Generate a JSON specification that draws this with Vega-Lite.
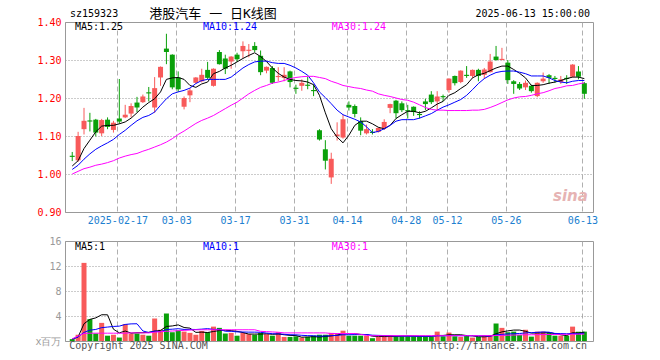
{
"$schema": "https://vega.github.io/schema/vega-lite/v6.json",
"background": "white",
"padding": {"left": 34, "top": 7, "right": 0, "bottom": 0},
"config": {
 "view": {"stroke": "#999", "strokeWidth": 1},
 "font": "DejaVu Sans Mono",
 "axis": {"labelFont": "DejaVu Sans Mono", "labelFontSize": 10, "ticks": false, "domain": false, "title": null, "labelOverlap": false},
 "line": {"strokeWidth": 1}
},
"spacing": 29,
"bounds": "flush",
"datasets": {"k": [
{"i":0,"o":1.048,"h":1.058,"l":1.034,"c":1.045,"v":0.3,"m5":1.021,"m10":1.012,"m30":1.000,"vm5":0.3,"vm10":0.3,"vm30":0.35},
{"i":1,"o":1.036,"h":1.111,"l":1.032,"c":1.100,"v":1.0,"m5":1.035,"m10":1.023,"m30":1.007,"vm5":0.65,"vm10":0.65,"vm30":0.8},
{"i":2,"o":1.118,"h":1.174,"l":1.104,"c":1.140,"v":12.5,"m5":1.067,"m10":1.039,"m30":1.014,"vm5":2.76,"vm10":1.38,"vm30":1.2},
{"i":3,"o":1.141,"h":1.161,"l":1.112,"c":1.138,"v":3.5,"m5":1.089,"m10":1.053,"m30":1.018,"vm5":3.46,"vm10":1.73,"vm30":1.25},
{"i":4,"o":1.143,"h":1.145,"l":1.099,"c":1.109,"v":1.2,"m5":1.111,"m10":1.065,"m30":1.023,"vm5":3.7,"vm10":1.85,"vm30":1.25},
{"i":5,"o":1.107,"h":1.145,"l":1.100,"c":1.142,"v":2.9,"m5":1.126,"m10":1.074,"m30":1.026,"vm5":4.2,"vm10":2.14,"vm30":1.25},
{"i":6,"o":1.143,"h":1.149,"l":1.118,"c":1.124,"v":0.85,"m5":1.128,"m10":1.082,"m30":1.030,"vm5":4.19,"vm10":2.23,"vm30":1.25},
{"i":7,"o":1.116,"h":1.140,"l":1.109,"c":1.135,"v":1.0,"m5":1.128,"m10":1.091,"m30":1.035,"vm5":1.89,"vm10":2.33,"vm30":1.25},
{"i":8,"o":1.146,"h":1.250,"l":1.132,"c":1.138,"v":0.55,"m5":1.132,"m10":1.104,"m30":1.042,"vm5":1.3,"vm10":2.38,"vm30":1.25},
{"i":9,"o":1.149,"h":1.182,"l":1.147,"c":1.156,"v":2.7,"m5":1.137,"m10":1.115,"m30":1.047,"vm5":1.6,"vm10":2.65,"vm30":1.25},
{"i":10,"o":1.159,"h":1.186,"l":1.149,"c":1.179,"v":1.2,"m5":1.147,"m10":1.128,"m30":1.051,"vm5":1.26,"vm10":2.74,"vm30":1.3},
{"i":11,"o":1.188,"h":1.203,"l":1.163,"c":1.175,"v":1.2,"m5":1.161,"m10":1.140,"m30":1.054,"vm5":1.33,"vm10":2.76,"vm30":1.3},
{"i":12,"o":1.189,"h":1.209,"l":1.187,"c":1.204,"v":1.0,"m5":1.176,"m10":1.149,"m30":1.060,"vm5":1.33,"vm10":1.61,"vm30":1.3},
{"i":13,"o":1.215,"h":1.229,"l":1.191,"c":1.212,"v":0.85,"m5":1.188,"m10":1.154,"m30":1.065,"vm5":1.39,"vm10":1.35,"vm30":1.3},
{"i":14,"o":1.175,"h":1.255,"l":1.161,"c":1.226,"v":3.6,"m5":1.198,"m10":1.163,"m30":1.071,"vm5":1.57,"vm10":1.6,"vm30":1.4},
{"i":15,"o":1.254,"h":1.283,"l":1.232,"c":1.282,"v":1.8,"m5":1.216,"m10":1.181,"m30":1.077,"vm5":1.69,"vm10":1.49,"vm30":1.5},
{"i":16,"o":1.330,"h":1.369,"l":1.289,"c":1.321,"v":4.4,"m5":1.249,"m10":1.198,"m30":1.084,"vm5":2.33,"vm10":1.84,"vm30":1.55},
{"i":17,"o":1.314,"h":1.315,"l":1.223,"c":1.228,"v":1.4,"m5":1.253,"m10":1.211,"m30":1.093,"vm5":2.41,"vm10":1.89,"vm30":1.6},
{"i":18,"o":1.254,"h":1.270,"l":1.216,"c":1.223,"v":1.7,"m5":1.254,"m10":1.216,"m30":1.104,"vm5":2.58,"vm10":1.97,"vm30":1.65},
{"i":19,"o":1.177,"h":1.204,"l":1.170,"c":1.200,"v":1.5,"m5":1.249,"m10":1.220,"m30":1.113,"vm5":2.16,"vm10":1.85,"vm30":1.7},
{"i":20,"o":1.207,"h":1.226,"l":1.189,"c":1.220,"v":1.3,"m5":1.233,"m10":1.226,"m30":1.123,"vm5":2.06,"vm10":1.86,"vm30":1.75},
{"i":21,"o":1.240,"h":1.255,"l":1.238,"c":1.254,"v":1.0,"m5":1.228,"m10":1.238,"m30":1.133,"vm5":1.38,"vm10":1.84,"vm30":1.8},
{"i":22,"o":1.244,"h":1.277,"l":1.241,"c":1.261,"v":1.6,"m5":1.237,"m10":1.246,"m30":1.141,"vm5":1.42,"vm10":1.9,"vm30":1.8},
{"i":23,"o":1.274,"h":1.295,"l":1.249,"c":1.253,"v":1.4,"m5":1.242,"m10":1.249,"m30":1.147,"vm5":1.36,"vm10":1.98,"vm30":1.8},
{"i":24,"o":1.232,"h":1.278,"l":1.230,"c":1.277,"v":2.3,"m5":1.264,"m10":1.249,"m30":1.154,"vm5":1.52,"vm10":1.85,"vm30":1.8},
{"i":25,"o":1.321,"h":1.326,"l":1.288,"c":1.289,"v":2.1,"m5":1.270,"m10":1.249,"m30":1.163,"vm5":1.68,"vm10":1.88,"vm30":1.8},
{"i":26,"o":1.304,"h":1.314,"l":1.263,"c":1.277,"v":1.2,"m5":1.279,"m10":1.249,"m30":1.172,"vm5":1.72,"vm10":1.56,"vm30":1.8},
{"i":27,"o":1.296,"h":1.310,"l":1.277,"c":1.309,"v":1.3,"m5":1.286,"m10":1.255,"m30":1.181,"vm5":1.66,"vm10":1.55,"vm30":1.8},
{"i":28,"o":1.314,"h":1.319,"l":1.295,"c":1.302,"v":0.85,"m5":1.295,"m10":1.267,"m30":1.189,"vm5":1.55,"vm10":1.46,"vm30":1.8},
{"i":29,"o":1.323,"h":1.349,"l":1.305,"c":1.337,"v":1.3,"m5":1.304,"m10":1.279,"m30":1.200,"vm5":1.35,"vm10":1.44,"vm30":1.8},
{"i":30,"o":1.324,"h":1.342,"l":1.307,"c":1.327,"v":1.1,"m5":1.312,"m10":1.288,"m30":1.211,"vm5":1.11,"vm10":1.42,"vm30":1.8},
{"i":31,"o":1.337,"h":1.347,"l":1.321,"c":1.326,"v":1.0,"m5":1.319,"m10":1.295,"m30":1.220,"vm5":1.11,"vm10":1.42,"vm30":1.8},
{"i":32,"o":1.311,"h":1.325,"l":1.260,"c":1.268,"v":1.3,"m5":1.309,"m10":1.297,"m30":1.228,"vm5":1.11,"vm10":1.39,"vm30":1.55},
{"i":33,"o":1.272,"h":1.283,"l":1.265,"c":1.282,"v":1.1,"m5":1.296,"m10":1.297,"m30":1.233,"vm5":1.16,"vm10":1.27,"vm30":1.5},
{"i":34,"o":1.279,"h":1.284,"l":1.237,"c":1.240,"v":0.85,"m5":1.279,"m10":1.293,"m30":1.239,"vm5":1.07,"vm10":1.17,"vm30":1.45},
{"i":35,"o":1.255,"h":1.281,"l":1.244,"c":1.258,"v":1.4,"m5":1.265,"m10":1.291,"m30":1.242,"vm5":1.13,"vm10":1.14,"vm30":1.4},
{"i":36,"o":1.253,"h":1.281,"l":1.244,"c":1.261,"v":0.65,"m5":1.255,"m10":1.291,"m30":1.246,"vm5":1.0,"vm10":1.08,"vm30":1.3},
{"i":37,"o":1.270,"h":1.272,"l":1.228,"c":1.242,"v":0.65,"m5":1.249,"m10":1.286,"m30":1.251,"vm5":0.9,"vm10":1.0,"vm30":1.3},
{"i":38,"o":1.227,"h":1.235,"l":1.211,"c":1.224,"v":0.75,"m5":1.246,"m10":1.279,"m30":1.254,"vm5":0.87,"vm10":0.99,"vm30":1.3},
{"i":39,"o":1.232,"h":1.249,"l":1.219,"c":1.240,"v":0.55,"m5":1.245,"m10":1.270,"m30":1.256,"vm5":0.61,"vm10":0.91,"vm30":1.3},
{"i":40,"o":1.235,"h":1.256,"l":1.223,"c":1.232,"v":0.65,"m5":1.242,"m10":1.260,"m30":1.257,"vm5":0.65,"vm10":0.86,"vm30":1.3},
{"i":41,"o":1.221,"h":1.235,"l":1.205,"c":1.218,"v":0.85,"m5":1.235,"m10":1.240,"m30":1.257,"vm5":0.69,"vm10":0.84,"vm30":1.3},
{"i":42,"o":1.115,"h":1.118,"l":1.088,"c":1.091,"v":1.0,"m5":1.207,"m10":1.216,"m30":1.254,"vm5":0.64,"vm10":0.77,"vm30":1.3},
{"i":43,"o":1.065,"h":1.089,"l":1.012,"c":1.035,"v":1.0,"m5":1.161,"m10":1.201,"m30":1.251,"vm5":0.73,"vm10":0.8,"vm30":1.3},
{"i":44,"o":0.991,"h":1.056,"l":0.974,"c":1.040,"v":1.3,"m5":1.119,"m10":1.185,"m30":1.244,"vm5":0.82,"vm10":0.86,"vm30":1.2},
{"i":45,"o":1.100,"h":1.136,"l":1.088,"c":1.104,"v":1.1,"m5":1.097,"m10":1.168,"m30":1.239,"vm5":0.93,"vm10":0.9,"vm30":1.2},
{"i":46,"o":1.096,"h":1.156,"l":1.093,"c":1.144,"v":1.65,"m5":1.082,"m10":1.156,"m30":1.233,"vm5":1.19,"vm10":1.0,"vm30":1.2},
{"i":47,"o":1.182,"h":1.191,"l":1.167,"c":1.175,"v":0.85,"m5":1.102,"m10":1.150,"m30":1.230,"vm5":1.18,"vm10":1.0,"vm30":1.2},
{"i":48,"o":1.179,"h":1.183,"l":1.149,"c":1.158,"v":0.85,"m5":1.128,"m10":1.144,"m30":1.227,"vm5":1.15,"vm10":1.02,"vm30":1.2},
{"i":49,"o":1.139,"h":1.149,"l":1.102,"c":1.114,"v":0.85,"m5":1.139,"m10":1.137,"m30":1.225,"vm5":1.06,"vm10":1.04,"vm30":1.05},
{"i":50,"o":1.107,"h":1.130,"l":1.104,"c":1.118,"v":0.85,"m5":1.139,"m10":1.124,"m30":1.221,"vm5":1.03,"vm10":1.04,"vm30":0.9},
{"i":51,"o":1.111,"h":1.118,"l":1.104,"c":1.108,"v":0.45,"m5":1.132,"m10":1.109,"m30":1.218,"vm5":0.77,"vm10":0.93,"vm30":0.85},
{"i":52,"o":1.111,"h":1.123,"l":1.109,"c":1.121,"v":0.65,"m5":1.123,"m10":1.112,"m30":1.211,"vm5":0.73,"vm10":0.9,"vm30":0.85},
{"i":53,"o":1.120,"h":1.144,"l":1.116,"c":1.137,"v":0.85,"m5":1.119,"m10":1.119,"m30":1.207,"vm5":0.71,"vm10":0.87,"vm30":0.85},
{"i":54,"o":1.174,"h":1.185,"l":1.160,"c":1.184,"v":0.95,"m5":1.128,"m10":1.128,"m30":1.204,"vm5":0.75,"vm10":0.84,"vm30":0.85},
{"i":55,"o":1.193,"h":1.195,"l":1.146,"c":1.160,"v":0.75,"m5":1.146,"m10":1.139,"m30":1.200,"vm5":0.73,"vm10":0.8,"vm30":0.85},
{"i":56,"o":1.186,"h":1.191,"l":1.163,"c":1.168,"v":0.75,"m5":1.156,"m10":1.143,"m30":1.196,"vm5":0.79,"vm10":0.79,"vm30":0.85},
{"i":57,"o":1.168,"h":1.182,"l":1.146,"c":1.165,"v":0.75,"m5":1.165,"m10":1.143,"m30":1.194,"vm5":0.81,"vm10":0.78,"vm30":0.85},
{"i":58,"o":1.177,"h":1.178,"l":1.153,"c":1.163,"v":0.75,"m5":1.165,"m10":1.143,"m30":1.189,"vm5":0.79,"vm10":0.77,"vm30":0.85},
{"i":59,"o":1.158,"h":1.165,"l":1.146,"c":1.155,"v":0.75,"m5":1.161,"m10":1.147,"m30":1.182,"vm5":0.75,"vm10":0.76,"vm30":0.85},
{"i":60,"o":1.191,"h":1.198,"l":1.168,"c":1.184,"v":0.75,"m5":1.165,"m10":1.153,"m30":1.175,"vm5":0.75,"vm10":0.75,"vm30":0.85},
{"i":61,"o":1.209,"h":1.218,"l":1.184,"c":1.189,"v":0.65,"m5":1.174,"m10":1.159,"m30":1.170,"vm5":0.73,"vm10":0.76,"vm30":0.85},
{"i":62,"o":1.191,"h":1.218,"l":1.167,"c":1.204,"v":1.5,"m5":1.184,"m10":1.168,"m30":1.168,"vm5":0.89,"vm10":0.83,"vm30":0.85},
{"i":63,"o":1.205,"h":1.209,"l":1.191,"c":1.202,"v":0.75,"m5":1.191,"m10":1.176,"m30":1.168,"vm5":0.89,"vm10":0.82,"vm30":0.85},
{"i":64,"o":1.221,"h":1.252,"l":1.214,"c":1.251,"v":1.35,"m5":1.207,"m10":1.182,"m30":1.167,"vm5":1.0,"vm10":0.88,"vm30":0.85},
{"i":65,"o":1.258,"h":1.259,"l":1.233,"c":1.239,"v":0.75,"m5":1.214,"m10":1.189,"m30":1.167,"vm5":1.0,"vm10":0.86,"vm30":0.85},
{"i":66,"o":1.242,"h":1.273,"l":1.239,"c":1.272,"v":0.65,"m5":1.225,"m10":1.196,"m30":1.167,"vm5":1.0,"vm10":0.85,"vm30":0.85},
{"i":67,"o":1.261,"h":1.284,"l":1.253,"c":1.258,"v":0.85,"m5":1.235,"m10":1.207,"m30":1.167,"vm5":0.87,"vm10":0.86,"vm30":0.85},
{"i":68,"o":1.258,"h":1.275,"l":1.253,"c":1.274,"v":0.55,"m5":1.253,"m10":1.222,"m30":1.168,"vm5":0.83,"vm10":0.84,"vm30":0.85},
{"i":69,"o":1.274,"h":1.277,"l":1.244,"c":1.258,"v":0.65,"m5":1.261,"m10":1.238,"m30":1.168,"vm5":0.69,"vm10":0.83,"vm30":0.85},
{"i":70,"o":1.261,"h":1.279,"l":1.251,"c":1.275,"v":0.85,"m5":1.265,"m10":1.251,"m30":1.170,"vm5":0.67,"vm10":0.84,"vm30":0.85},
{"i":71,"o":1.268,"h":1.316,"l":1.267,"c":1.296,"v":0.95,"m5":1.272,"m10":1.260,"m30":1.175,"vm5":0.77,"vm10":0.76,"vm30":0.85},
{"i":72,"o":1.309,"h":1.337,"l":1.298,"c":1.300,"v":2.8,"m5":1.279,"m10":1.267,"m30":1.181,"vm5":1.16,"vm10":0.99,"vm30":0.88},
{"i":73,"o":1.300,"h":1.332,"l":1.299,"c":1.303,"v":2.1,"m5":1.284,"m10":1.270,"m30":1.188,"vm5":1.46,"vm10":1.06,"vm30":0.9},
{"i":74,"o":1.293,"h":1.300,"l":1.237,"c":1.247,"v":1.4,"m5":1.284,"m10":1.271,"m30":1.195,"vm5":1.62,"vm10":1.13,"vm30":0.92},
{"i":75,"o":1.244,"h":1.247,"l":1.211,"c":1.237,"v":1.5,"m5":1.275,"m10":1.271,"m30":1.200,"vm5":1.75,"vm10":1.16,"vm30":0.95},
{"i":76,"o":1.237,"h":1.242,"l":1.221,"c":1.225,"v":0.95,"m5":1.265,"m10":1.268,"m30":1.203,"vm5":1.75,"vm10":1.2,"vm30":0.97},
{"i":77,"o":1.228,"h":1.246,"l":1.221,"c":1.240,"v":1.8,"m5":1.253,"m10":1.264,"m30":1.204,"vm5":1.55,"vm10":1.3,"vm30":1.0},
{"i":78,"o":1.232,"h":1.235,"l":1.214,"c":1.218,"v":0.7,"m5":1.233,"m10":1.258,"m30":1.207,"vm5":1.27,"vm10":1.33,"vm30":1.0},
{"i":79,"o":1.205,"h":1.241,"l":1.202,"c":1.240,"v":1.5,"m5":1.233,"m10":1.258,"m30":1.211,"vm5":1.29,"vm10":1.39,"vm30":1.02},
{"i":80,"o":1.244,"h":1.267,"l":1.240,"c":1.251,"v":1.5,"m5":1.235,"m10":1.258,"m30":1.214,"vm5":1.29,"vm10":1.45,"vm30":1.03},
{"i":81,"o":1.260,"h":1.263,"l":1.237,"c":1.253,"v":1.3,"m5":1.239,"m10":1.253,"m30":1.219,"vm5":1.36,"vm10":1.41,"vm30":1.04},
{"i":82,"o":1.253,"h":1.258,"l":1.240,"c":1.250,"v":0.85,"m5":1.242,"m10":1.246,"m30":1.225,"vm5":1.17,"vm10":1.21,"vm30":1.05},
{"i":83,"o":1.242,"h":1.258,"l":1.237,"c":1.249,"v":0.85,"m5":1.246,"m10":1.242,"m30":1.228,"vm5":1.0,"vm10":1.19,"vm30":1.06},
{"i":84,"o":1.253,"h":1.260,"l":1.237,"c":1.250,"v":0.85,"m5":1.251,"m10":1.240,"m30":1.232,"vm5":0.87,"vm10":1.16,"vm30":1.07},
{"i":85,"o":1.256,"h":1.289,"l":1.254,"c":1.288,"v":2.3,"m5":1.255,"m10":1.244,"m30":1.233,"vm5":1.33,"vm10":1.2,"vm30":1.08},
{"i":86,"o":1.270,"h":1.284,"l":1.249,"c":1.256,"v":1.5,"m5":1.255,"m10":1.246,"m30":1.237,"vm5":1.27,"vm10":1.17,"vm30":1.1},
{"i":87,"o":1.239,"h":1.242,"l":1.198,"c":1.211,"v":1.5,"m5":1.251,"m10":1.246,"m30":1.240,"vm5":1.41,"vm10":1.26,"vm30":1.1}
],
"one": [{"n": 1}]},
"vconcat": [
{
 "width": 528, "height": 190,
 "layer": [
  {"data": {"name": "k"},
   "mark": {"type": "rule", "strokeWidth": 1},
   "encoding": {
    "x": {"field": "i", "type": "quantitative",
     "scale": {"domain": [-0.38, 87.62], "nice": false, "zero": false},
     "axis": {"values": [7.67, 17.67, 27.67, 37.67, 46.67, 56.67, 63.67, 73.67, 86.67], "tickCount": 20,
      "labelExpr": "datum.value < 10 ? '2025-02-17' : datum.value < 20 ? '03-03' : datum.value < 30 ? '03-17' : datum.value < 40 ? '03-31' : datum.value < 50 ? '04-14' : datum.value < 60 ? '04-28' : datum.value < 70 ? '05-12' : datum.value < 80 ? '05-26' : '06-13'",
      "grid": true, "gridDash": [5, 3], "gridColor": "#b0b0b0", "labelColor": "#2080d0", "labelPadding": 3, "labelFlush": 8, "labelFlushOffset": -2, "labelOverlap": false, "title": null}},
    "y": {"field": "l", "type": "quantitative", "scale": {"domain": [0.9, 1.4], "nice": false, "zero": false},
     "axis": {"values": [0.9, 1.0, 1.1, 1.2, 1.3, 1.4], "tickCount": 20, "format": ".2f", "grid": true, "gridDash": [1, 2], "gridColor": "#999", "labelColor": "#ff0000", "labelPadding": 4, "labelOverlap": false, "labelBound": false, "title": null}},
    "y2": {"field": "h"},
    "color": {"condition": {"test": "datum.c >= datum.o", "value": "#f85a5a"}, "value": "#0aa00a"}}},
  {"data": {"name": "k"},
   "mark": {"type": "bar", "size": 5},
   "encoding": {
    "x": {"field": "i", "type": "quantitative"},
    "y": {"field": "o", "type": "quantitative"},
    "y2": {"field": "c"},
    "color": {"condition": {"test": "datum.c >= datum.o", "value": "#f85a5a"}, "value": "#0aa00a"}}},
  {"data": {"name": "k"}, "mark": {"type": "line", "color": "#000000", "strokeWidth": 1}, "encoding": {"x": {"field": "i", "type": "quantitative"}, "y": {"field": "m5", "type": "quantitative"}}},
  {"data": {"name": "k"}, "mark": {"type": "line", "color": "#0000ff", "strokeWidth": 1}, "encoding": {"x": {"field": "i", "type": "quantitative"}, "y": {"field": "m10", "type": "quantitative"}}},
  {"data": {"name": "k"}, "mark": {"type": "line", "color": "#ff00ff", "strokeWidth": 1}, "encoding": {"x": {"field": "i", "type": "quantitative"}, "y": {"field": "m30", "type": "quantitative"}}},
  {"data": {"name": "one"}, "mark": {"type": "text", "align": "left", "baseline": "middle", "color": "#000", "fontSize": 10, "font": "DejaVu Sans Mono", "text": "sz159323"},
   "encoding": {"x": {"datum": -0.38}, "y": {"datum": 1.4218}}},
  {"data": {"name": "one"}, "mark": {"type": "text", "align": "left", "baseline": "middle", "color": "#000", "font": "DejaVu Sans Mono, Noto Sans CJK SC", "fontSize": 13, "text": "港股汽车 一 日K线图"},
   "encoding": {"x": {"datum": 13.1}, "y": {"datum": 1.4218}}},
  {"data": {"name": "one"}, "mark": {"type": "text", "align": "right", "baseline": "middle", "color": "#000", "fontSize": 10, "font": "DejaVu Sans Mono", "text": "2025-06-13 15:00:00"},
   "encoding": {"x": {"datum": 87.95}, "y": {"datum": 1.4218}}},
  {"data": {"name": "one"}, "mark": {"type": "text", "align": "left", "baseline": "middle", "color": "#000", "fontSize": 10, "font": "DejaVu Sans Mono", "text": "MA5:1.25"},
   "encoding": {"x": {"datum": 0.45}, "y": {"datum": 1.386}}},
  {"data": {"name": "one"}, "mark": {"type": "text", "align": "left", "baseline": "middle", "color": "#0000ff", "fontSize": 10, "font": "DejaVu Sans Mono", "text": "MA10:1.24"},
   "encoding": {"x": {"datum": 22.2}, "y": {"datum": 1.386}}},
  {"data": {"name": "one"}, "mark": {"type": "text", "align": "left", "baseline": "middle", "color": "#ff00ff", "fontSize": 10, "font": "DejaVu Sans Mono", "text": "MA30:1.24"},
   "encoding": {"x": {"datum": 44.1}, "y": {"datum": 1.386}}},
  {"data": {"name": "one"}, "mark": {"type": "text", "align": "right", "baseline": "middle", "color": "#e6b3b3", "font": "DejaVu Sans", "fontSize": 15, "fontStyle": "italic", "fontWeight": "bold", "text": "sina"},
   "encoding": {"x": {"datum": 87.6}, "y": {"datum": 0.942}}}
 ]
},
{
 "width": 528, "height": 100,
 "layer": [
  {"data": {"name": "k"},
   "mark": {"type": "bar", "size": 5},
   "encoding": {
    "x": {"field": "i", "type": "quantitative",
     "scale": {"domain": [-0.38, 87.62], "nice": false, "zero": false},
     "axis": {"values": [7.67, 17.67, 27.67, 37.67, 46.67, 56.67, 63.67, 73.67, 86.67], "tickCount": 20, "labels": false,
      "grid": true, "gridDash": [5, 3], "gridColor": "#b0b0b0", "title": null}},
    "y": {"field": "v", "type": "quantitative", "scale": {"domain": [0, 16], "nice": false},
     "axis": {"values": [0, 4, 8, 12, 16], "tickCount": 20, "labelExpr": "datum.value == 0 ? 'x百万' : datum.label", "grid": true, "gridDash": [1, 2], "gridColor": "#999", "labelColor": "#999", "labelPadding": 4, "labelOverlap": false, "labelBound": false, "title": null}},
    "color": {"condition": {"test": "datum.c >= datum.o", "value": "#f85a5a"}, "value": "#0aa00a"}}},
  {"data": {"name": "k"}, "mark": {"type": "line", "color": "#000000", "strokeWidth": 1}, "encoding": {"x": {"field": "i", "type": "quantitative"}, "y": {"field": "vm5", "type": "quantitative"}}},
  {"data": {"name": "k"}, "mark": {"type": "line", "color": "#0000ff", "strokeWidth": 1}, "encoding": {"x": {"field": "i", "type": "quantitative"}, "y": {"field": "vm10", "type": "quantitative"}}},
  {"data": {"name": "k"}, "mark": {"type": "line", "color": "#ff00ff", "strokeWidth": 1}, "encoding": {"x": {"field": "i", "type": "quantitative"}, "y": {"field": "vm30", "type": "quantitative"}}},
  {"data": {"name": "one"}, "mark": {"type": "text", "align": "left", "baseline": "middle", "color": "#000", "fontSize": 10, "font": "DejaVu Sans Mono", "text": "MA5:1"},
   "encoding": {"x": {"datum": 0.45}, "y": {"datum": 15.1}}},
  {"data": {"name": "one"}, "mark": {"type": "text", "align": "left", "baseline": "middle", "color": "#0000ff", "fontSize": 10, "font": "DejaVu Sans Mono", "text": "MA10:1"},
   "encoding": {"x": {"datum": 22.2}, "y": {"datum": 15.1}}},
  {"data": {"name": "one"}, "mark": {"type": "text", "align": "left", "baseline": "middle", "color": "#ff00ff", "fontSize": 10, "font": "DejaVu Sans Mono", "text": "MA30:1"},
   "encoding": {"x": {"datum": 44.1}, "y": {"datum": 15.1}}},
  {"data": {"name": "one"}, "mark": {"type": "text", "align": "left", "baseline": "middle", "color": "#555", "fontSize": 10, "font": "DejaVu Sans Mono", "text": "Copyright 2025 SINA.COM"},
   "encoding": {"x": {"datum": -0.5}, "y": {"datum": -0.85}}},
  {"data": {"name": "one"}, "mark": {"type": "text", "align": "right", "baseline": "middle", "color": "#555", "fontSize": 10, "font": "DejaVu Sans Mono", "text": "http://finance.sina.com.cn"},
   "encoding": {"x": {"datum": 87.45}, "y": {"datum": -0.85}}}
 ]
}
]
}
